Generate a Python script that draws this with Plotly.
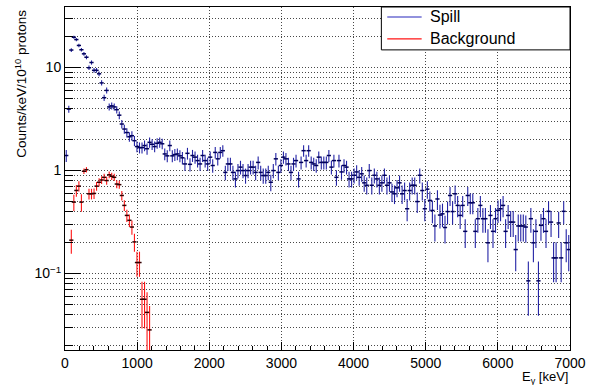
import numpy as np
import plotly.graph_objects as go

BIN_WIDTH = 35.0  # keV

# Spill spectrum (counts/keV/1e10 protons), 200 bins of 35 keV from 0 to 7000 keV
spill = [
    1.4, 3.95, 14.8, 19.7, 18.7, 16.4, 14.9, 13.6, 12.6, 9.96,
    11.2, 9.4, 9.4, 8.7, 7.1, 5.1, 6.0, 4.15, 4.25, 4.15,
    3.9, 3.45, 2.83, 2.53, 2.34, 2.13, 2.18, 1.95, 1.71, 1.67,
    1.67, 1.75, 1.63, 1.88, 1.80, 1.71, 1.84, 1.88, 1.82, 1.45,
    1.39, 1.75, 1.39, 1.43, 1.45, 1.39, 1.33, 1.16, 1.47, 1.15,
    1.40, 1.35, 1.25, 1.16, 1.40, 1.25, 1.16, 1.35, 1.12, 1.50,
    1.30, 1.50, 1.56, 0.96, 1.16, 1.16, 0.96, 0.83, 1.00, 1.08,
    1.00, 0.895, 1.00, 1.08, 1.08, 0.96, 1.20, 0.96, 0.895, 0.895,
    0.96, 0.77, 1.00, 1.30, 0.96, 1.12, 1.35, 1.30, 1.16, 0.96,
    1.16, 1.25, 0.83, 1.20, 1.56, 1.25, 1.56, 1.20, 1.16, 1.12,
    1.35, 1.20, 1.20, 1.20, 1.40, 1.08, 1.25, 0.86, 1.25, 0.97,
    1.12, 1.08, 0.83, 0.83, 0.90, 0.97, 0.86, 0.93, 0.76, 0.72,
    1.00, 0.72, 0.90, 0.83, 0.72, 0.76, 0.90, 0.72, 0.76, 0.62,
    0.595, 0.68, 0.76, 0.595, 0.64, 0.426, 0.64, 0.72, 0.72, 0.50,
    0.90, 0.64, 0.426, 0.66, 0.513, 0.41, 0.29, 0.53, 0.37, 0.38,
    0.28, 0.40, 0.573, 0.40, 0.595, 0.459, 0.367, 0.459, 0.257, 0.573,
    0.487, 0.487, 0.257, 0.341, 0.459, 0.341, 0.341, 0.199, 0.367, 0.257,
    0.341, 0.411, 0.426, 0.459, 0.257, 0.367, 0.316, 0.316, 0.171, 0.29,
    0.29, 0.29, 0.283, 0.085, 0.341, 0.199, 0.257, 0.085, 0.294, 0.341,
    0.257, 0.402, 0.316, 0.142, 0.142, 0.31, 0.142, 0.402, 0.199, 0.171,
]
SPILL_ERR_SCALE = 0.025  # Poisson error scale: err = sqrt(value * scale)

# Background spectrum, same binning (first 34 bins)
background = [
    None, None, 0.211, 0.494, 0.641, 0.706, 0.494, 0.985, 1.02, 0.595,
    0.595, 0.60, 0.706, 0.77, 0.81, 0.86, 0.80, 0.91, 0.88, 0.86,
    0.74, 0.73, 0.573, 0.459, 0.367, 0.329, 0.283, 0.203, 0.128, 0.128,
    0.0563, 0.0563, 0.042, 0.0284,
]
background_err = [
    None, None, 0.055, 0.09, 0.085, 0.08, 0.095, 0.06, 0.06, 0.07,
    0.07, 0.07, 0.07, 0.07, 0.07, 0.07, 0.07, 0.07, 0.07, 0.07,
    0.065, 0.065, 0.06, 0.055, 0.05, 0.045, 0.045, 0.04, 0.035, 0.035,
    0.027, 0.027, 0.024, 0.02,
]

x_ticks = [0, 1000, 2000, 3000, 4000, 5000, 6000, 7000]
y_ticks = [0.1, 1, 10]
y_ticktext = ["10<sup>\u22121</sup>", "1", "10"]

spill_x = [BIN_WIDTH * (i + 0.5) for i in range(len(spill))]
bg_x = [BIN_WIDTH * (i + 0.5) for i in range(len(background))]
spill_err = list(np.sqrt(np.array(spill) * SPILL_ERR_SCALE))

FONT = "Liberation Sans, Arial, Helvetica, sans-serif"
SPILL_COL = "rgb(35,35,165)"
BG_COL = "rgb(255,20,20)"

fig = go.Figure()
fig.add_trace(go.Scatter(
    x=spill_x, y=spill, mode="markers",
    marker=dict(symbol="line-ew", size=3, line=dict(width=1.5, color="rgb(0,0,90)")),
    error_y=dict(type="data", array=spill_err, color=SPILL_COL, thickness=1.1, width=0),
    showlegend=False, name="Spill"))
fig.add_trace(go.Scatter(
    x=bg_x, y=background, mode="markers",
    marker=dict(symbol="line-ew", size=3, line=dict(width=1.5, color="rgb(50,0,0)")),
    error_y=dict(type="data", array=background_err, color=BG_COL, thickness=1.1, width=0),
    showlegend=False, name="Background"))

minor_x = [v for v in range(0, 7001, 200) if v % 1000 != 0]
minor_y = [m * 10.0 ** e for e in (-2, -1, 0, 1) for m in range(2, 10)]
minor_y = [v for v in minor_y if v < 40]

grid_col = "rgba(40,40,40,0.85)"
GRID_DASH = "1px,2px"
fig.update_layout(
    width=592, height=385,
    margin=dict(l=65, r=13, t=6, b=35),
    paper_bgcolor="white", plot_bgcolor="white",
    font=dict(family=FONT, size=14, color="black"),
    showlegend=False,
    xaxis=dict(
        range=[0, 7000], tickmode="array", tickvals=x_ticks,
        ticks="inside", ticklen=8, tickcolor="black", tickwidth=1,
        showgrid=True, gridcolor=grid_col, griddash=GRID_DASH, gridwidth=1,
        showline=True, linecolor="black", linewidth=1, mirror=True,
        zeroline=False, ticklabeloverflow="allow",
        tickfont=dict(size=14),
        minor=dict(tickmode="array", tickvals=minor_x, ticks="inside", ticklen=4,
                   tickcolor="black", showgrid=False),
    ),
    yaxis=dict(
        type="log", range=[-1.742, 1.588], tickmode="array",
        tickvals=y_ticks, ticktext=y_ticktext,
        ticks="inside", ticklen=16, tickcolor="black", tickwidth=1,
        showgrid=True, gridcolor=grid_col, griddash=GRID_DASH, gridwidth=1,
        showline=True, linecolor="black", linewidth=1, mirror=True,
        zeroline=False, tickfont=dict(size=14),
        minor=dict(tickmode="array", tickvals=minor_y, ticks="inside", ticklen=8,
                   tickcolor="black", showgrid=True, gridcolor=grid_col,
                   griddash=GRID_DASH),
    ),
)

# Axis titles
fig.add_annotation(text="Counts/keV/10<sup>10</sup> protons", xref="paper", yref="paper",
                   x=(20 - 65) / 514, y=(350 - 7) / 344, xanchor="center", yanchor="top",
                   textangle=-90, showarrow=False, font=dict(size=13.5, family=FONT))
fig.add_annotation(text="E<sub>\u03b3</sub> [keV]", xref="paper", yref="paper",
                   x=1.0, y=(350 - 377.5) / 344, xanchor="right", yanchor="middle",
                   showarrow=False, font=dict(size=13, family=FONT))

# Legend box (drawn ROOT-style)
def px_x(p):
    return (p - 65) / 514

def px_y(p):
    return (350 - p) / 344

fig.add_shape(type="rect", xref="paper", yref="paper",
              x0=px_x(387), x1=1.0, y0=px_y(49), y1=1.0,
              line=dict(color="black", width=1), fillcolor="white", layer="above")
fig.add_shape(type="line", xref="paper", yref="paper",
              x0=px_x(393), x1=px_x(428), y0=px_y(16), y1=px_y(16),
              line=dict(color="rgb(110,110,210)", width=1.5), layer="above")
fig.add_shape(type="line", xref="paper", yref="paper",
              x0=px_x(393), x1=px_x(428), y0=px_y(38), y1=px_y(38),
              line=dict(color=BG_COL, width=1.2), layer="above")
fig.add_annotation(text="Spill", xref="paper", yref="paper", x=px_x(434), y=px_y(16),
                   xanchor="left", yanchor="middle", showarrow=False,
                   font=dict(size=16, family=FONT))
fig.add_annotation(text="Background", xref="paper", yref="paper", x=px_x(434), y=px_y(38),
                   xanchor="left", yanchor="middle", showarrow=False,
                   font=dict(size=16, family=FONT))

fig.write_html("out.html")
